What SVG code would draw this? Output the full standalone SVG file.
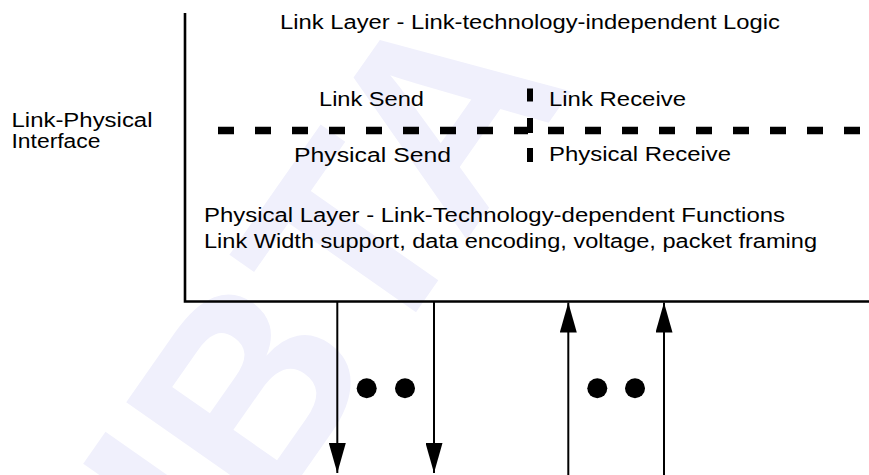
<svg xmlns="http://www.w3.org/2000/svg" width="869" height="475" viewBox="0 0 869 475">
<style>
text{font-family:"Liberation Sans",Arial,sans-serif;font-size:20px;fill:#000}
.wm{font-family:"Liberation Sans",Arial,sans-serif;font-weight:bold;font-size:270px;fill:#f0f0fc}
.edge{stroke:#000;stroke-width:2;fill:none}
.dash{fill:#000}
</style>
<defs>
<marker id="ah" viewBox="0 0 30 17" refX="30" refY="8.5" markerWidth="30" markerHeight="17" markerUnits="userSpaceOnUse" orient="auto">
<path d="M0,0 L30,8.5 L0,17 z" fill="#000"/>
</marker>
</defs>
<rect width="869" height="475" fill="#fff"/>
<g id="watermark">
<text class="wm" transform="translate(225,585) rotate(-55)">IBTA</text>
</g>
<g id="layer-box">
<path d="M185,13 V301.5 H869" stroke="#000" stroke-width="2.6" fill="none"/>
</g>
<g id="link-layer">
<text x="280" y="28.5" textLength="500" lengthAdjust="spacingAndGlyphs">Link Layer - Link-technology-independent Logic</text>
</g>
<g id="interface-label">
<text x="11.5" y="126.7" textLength="141" lengthAdjust="spacingAndGlyphs">Link-Physical</text>
<text x="11.5" y="148.3" textLength="89" lengthAdjust="spacingAndGlyphs">Interface</text>
</g>
<g id="interface-line">
<path d="M218,130.5 H528" stroke="#000" stroke-width="7.4" stroke-dasharray="16 21" fill="none"/>
<path d="M548,130.5 H860" stroke="#000" stroke-width="7.4" stroke-dasharray="16 21" fill="none"/>
<rect class="dash" x="527" y="88.5" width="6" height="13"/>
<rect class="dash" x="527" y="118" width="6" height="15"/>
<rect class="dash" x="527" y="148" width="6" height="14"/>
</g>
<g id="link-send">
<text x="319" y="106" textLength="105" lengthAdjust="spacingAndGlyphs">Link Send</text>
</g>
<g id="physical-send">
<text x="294" y="161.5" textLength="157" lengthAdjust="spacingAndGlyphs">Physical Send</text>
</g>
<g id="link-receive">
<text x="549" y="106" textLength="137" lengthAdjust="spacingAndGlyphs">Link Receive</text>
</g>
<g id="physical-receive">
<text x="549" y="160.5" textLength="182" lengthAdjust="spacingAndGlyphs">Physical Receive</text>
</g>
<g id="physical-layer">
<text x="204" y="221.7" textLength="581" lengthAdjust="spacingAndGlyphs">Physical Layer - Link-Technology-dependent Functions</text>
<text x="204" y="248.3" textLength="613" lengthAdjust="spacingAndGlyphs">Link Width support, data encoding, voltage, packet framing</text>
</g>
<g id="dots">
<circle cx="366.7" cy="388.3" r="10"/>
<circle cx="405" cy="388.3" r="10"/>
<circle cx="597.3" cy="388.3" r="10"/>
<circle cx="635" cy="388.3" r="10"/>
</g>
<g id="connectors">
<line class="edge" x1="337.3" y1="302" x2="337.3" y2="473" marker-end="url(#ah)"/>
<line class="edge" x1="434" y1="302" x2="434" y2="473" marker-end="url(#ah)"/>
<line class="edge" x1="568.3" y1="475" x2="568.3" y2="302.5" marker-end="url(#ah)"/>
<line class="edge" x1="664" y1="475" x2="664" y2="302.5" marker-end="url(#ah)"/>
</g>
</svg>
